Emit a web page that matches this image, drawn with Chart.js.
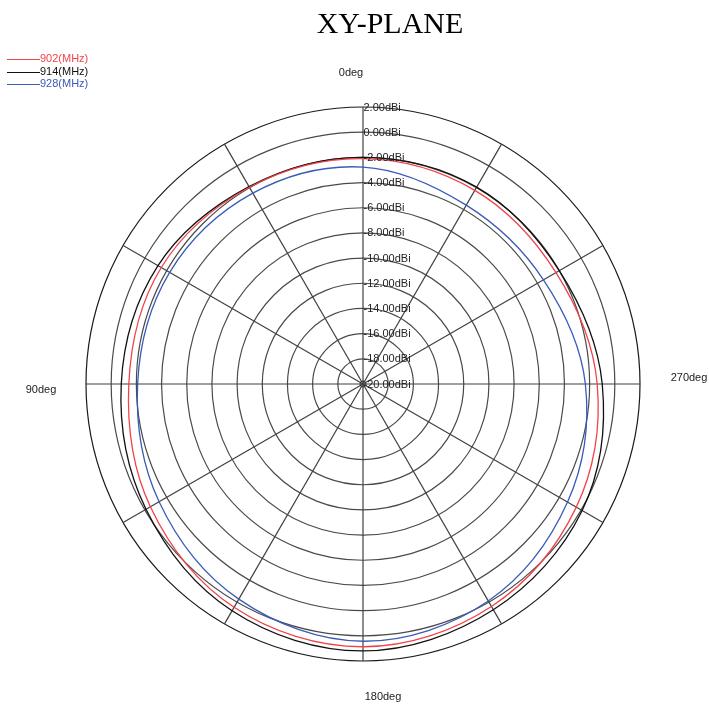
<!DOCTYPE html>
<html><head><meta charset="utf-8">
<script src="https://cdn.jsdelivr.net/npm/chart.js@4"></script>
<style>html,body{margin:0;padding:0;background:#fff;}</style>
</head><body>
<canvas id="c" width="709" height="704" style="display:block;width:709px;height:704px"></canvas>
<script>
// ---- data (angles in degrees, counter-clockwise from top) ----
const angles = [0, 30, 60, 90, 120, 150, 180, 210, 240, 270, 300, 330];
const gain902 = [-2.10, -1.96, -1.50, -1.40, -0.50, 0.48, 0.87, 0.40, -0.44, -1.40, -2.30, -2.24];
const gain914 = [-2.00, -1.90, -1.20, -0.80, -0.10, 0.80, 1.20, 0.70, 0.10, -1.00, -2.00, -1.95];
const gain928 = [-2.77, -2.50, -2.27, -2.10, -1.30, -0.27, 0.43, -0.10, -1.24, -2.34, -3.45, -3.60];
const seriesNames = ['902(MHz)', '914(MHz)', '928(MHz)'];
const radialTicks = [2, 0, -2, -4, -6, -8, -10, -12, -14, -16, -18, -20];
const directionLabels = ['0deg', '90deg', '180deg', '270deg'];
const titleText = 'XY-PLANE';

// radar draws clockwise; reorder so the angles run counter-clockwise
const order = angles.map((_, i) => angles.indexOf((360 - angles[i]) % 360));
const pick = arr => order.map(k => arr[k]);
const colors = ['#f0444a', '#111111', '#3a5bb8'];
const series = [gain902, gain914, gain928];

const overlay = {
  id: 'overlay',
  afterDraw(chart) {
    const ctx = chart.ctx;
    const s = chart.scales.r;
    const cx = s.xCenter, cy = s.yCenter;
    ctx.save();
    // centre small circle
    ctx.beginPath();
    ctx.arc(cx, cy, 3, 0, Math.PI * 2);
    ctx.strokeStyle = '#333'; ctx.lineWidth = 1; ctx.stroke();
    // radial tick labels
    ctx.font = '11px "Liberation Sans", Arial, sans-serif';
    ctx.fillStyle = '#222';
    ctx.textAlign = 'left';
    ctx.textBaseline = 'middle';
    radialTicks.forEach(v => {
      const y = cy - s.getDistanceFromCenterForValue(v);
      ctx.fillText(v.toFixed(2) + 'dBi', cx + 0.5, y + 0.5);
    });
    // direction labels
    const offs = [[-12, -311], [-322, 6], [20, 313], [326, -6]];
    ctx.textAlign = 'center';
    directionLabels.forEach((t, i) => {
      ctx.fillText(t, cx + offs[i][0], cy + offs[i][1]);
    });
    // title
    ctx.font = '30px "Liberation Serif", "Times New Roman", serif';
    ctx.fillStyle = '#000';
    ctx.textAlign = 'center';
    ctx.textBaseline = 'alphabetic';
    ctx.fillText(titleText, 390, 33);
    // legend
    ctx.font = '11px "Liberation Sans", Arial, sans-serif';
    ctx.textAlign = 'left';
    ctx.textBaseline = 'middle';
    seriesNames.forEach((n, i) => {
      const y = 59 + i * 12.7;
      ctx.beginPath();
      ctx.moveTo(7, Math.round(y) + 0.5); ctx.lineTo(40, Math.round(y) + 0.5);
      ctx.strokeStyle = colors[i]; ctx.lineWidth = 1; ctx.stroke();
      ctx.fillStyle = colors[i];
      ctx.fillText(n, 40, y);
    });
    ctx.restore();
  }
};

new Chart(document.getElementById('c'), {
  type: 'radar',
  data: {
    labels: pick(angles).map(a => a + 'deg'),
    datasets: series.map((arr, i) => ({
      label: seriesNames[i],
      data: pick(arr),
      borderColor: colors[i],
      backgroundColor: 'transparent',
      borderWidth: 1.3,
      fill: false,
      pointRadius: 0,
      tension: 0.35
    }))
  },
  options: {
    responsive: false,
    animation: false,
    devicePixelRatio: 1,
    layout: { padding: { left: 85.5, right: 68.5, top: 106.5, bottom: 42.5 } },
    plugins: { legend: { display: false }, title: { display: false }, tooltip: { enabled: false } },
    scales: {
      r: {
        min: -20, max: 2, startAngle: 0,
        ticks: { display: false, stepSize: 2 },
        pointLabels: { display: false },
        grid: {
          circular: true,
          lineWidth: 1.2,
          color: c => (c.tick && c.tick.value === 2) ? '#1a1a1a' : '#4a4a4a'
        },
        angleLines: { color: '#404040', lineWidth: 1.2 }
      }
    }
  },
  plugins: [overlay]
});
</script>
</body></html>
